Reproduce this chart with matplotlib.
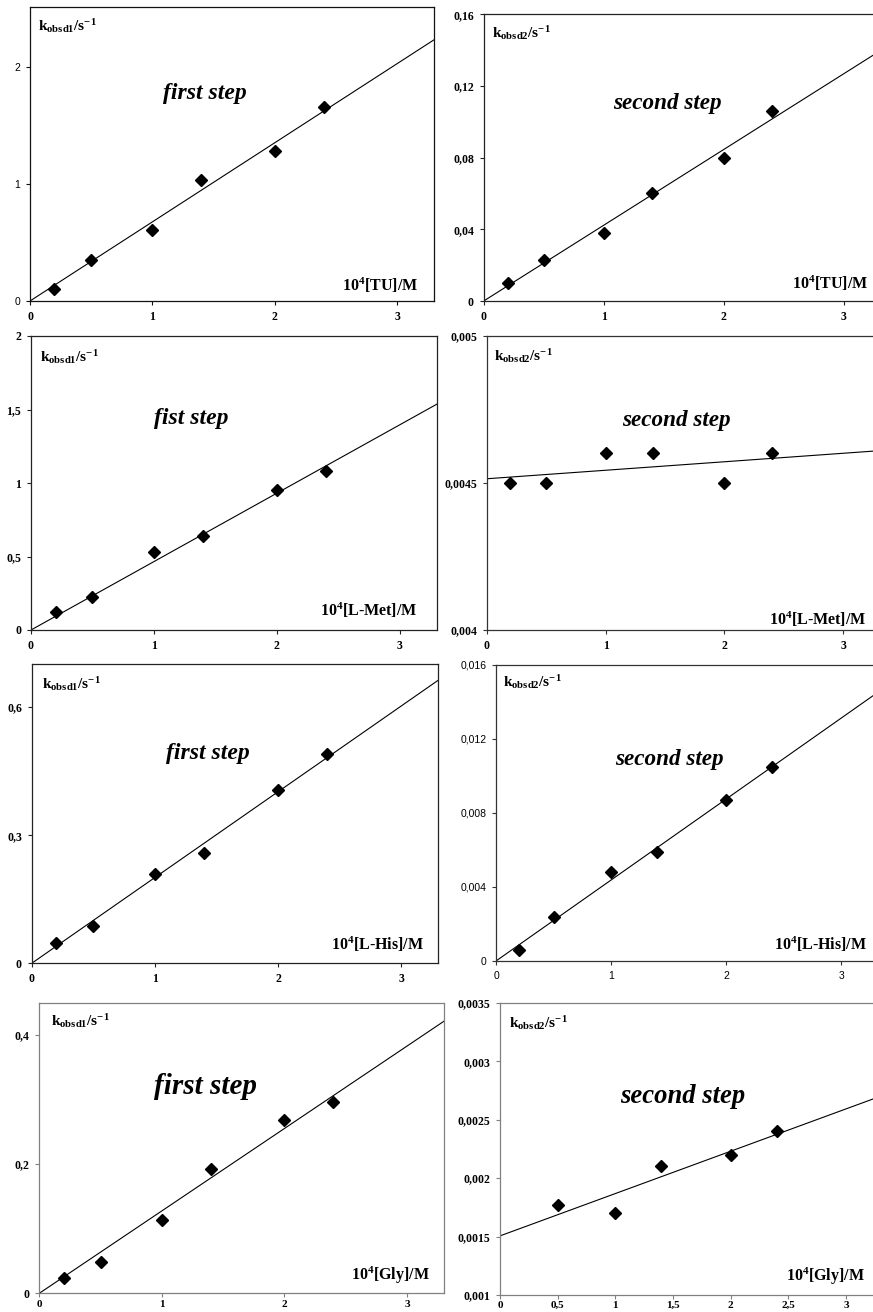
import numpy as np
import matplotlib
matplotlib.use("Agg")
from matplotlib import pyplot as plt

plt.rcParams['mathtext.fontset'] = 'custom'
plt.rcParams['mathtext.rm'] = 'Liberation Serif:bold'
plt.rcParams['mathtext.it'] = 'Liberation Serif:bold:italic'
plt.rcParams['mathtext.bf'] = 'Liberation Serif:bold'

# concentrations, 10^4 [S] / M
conc = [0.2, 0.5, 1, 1.4, 2, 2.4]
conc_gly2 = [0.5, 1, 1.4, 2, 2.4]

k1_tu = [0.10, 0.35, 0.61, 1.03, 1.28, 1.66]
k2_tu = [0.010, 0.023, 0.038, 0.060, 0.080, 0.106]
k1_met = [0.12, 0.225, 0.53, 0.64, 0.95, 1.08]
k2_met = [0.0045, 0.0045, 0.0046, 0.0046, 0.0045, 0.0046]
k1_his = [0.048, 0.088, 0.209, 0.259, 0.405, 0.49]
k2_his = [0.0006, 0.0024, 0.0048, 0.0059, 0.0087, 0.0105]
k1_gly = [0.023, 0.049, 0.114, 0.192, 0.269, 0.296]
k2_gly = [0.00177, 0.0017, 0.0021, 0.0022, 0.0024]

substrates = ['TU', 'TU', 'L-Met', 'L-Met', 'L-His', 'L-His', 'Gly', 'Gly']
step_names = ['first step', 'second step', 'fist step', 'second step',
              'first step', 'second step', 'first step', 'second step']

x_ticks = [0, 1, 2, 3]
x_ticks_half = [0, 0.5, 1, 1.5, 2, 2.5, 3]
x_labels_half = ['0', '0,5', '1', '1,5', '2', '2,5', '3']

y_ticks = [
    ([0, 1, 2], ['0', '1', '2'], (0, 2.51)),
    ([0, 0.04, 0.08, 0.12, 0.16], ['0', '0,04', '0,08', '0,12', '0,16'], (0, 0.16)),
    ([0, 0.5, 1, 1.5, 2], ['0', '0,5', '1', '1,5', '2'], (0, 2)),
    ([0.004, 0.0045, 0.005], ['0,004', '0,0045', '0,005'], (0.004, 0.005)),
    ([0, 0.3, 0.6], ['0', '0,3', '0,6'], (0, 0.7)),
    ([0, 0.004, 0.008, 0.012, 0.016], ['0', '0,004', '0,008', '0,012', '0,016'], (0, 0.016)),
    ([0, 0.2, 0.4], ['0', '0,2', '0,4'], (0, 0.45)),
    ([0.001, 0.0015, 0.002, 0.0025, 0.003, 0.0035],
     ['0,001', '0,0015', '0,002', '0,0025', '0,003', '0,0035'], (0.001, 0.0035)),
]

W, H = 873.0, 1312.0
# left, right, top, bottom in pixels
boxes = [
    (30, 434, 7, 301),
    (483.7, 879.7, 14.3, 301),
    (31, 436.7, 336, 630),
    (486.7, 879, 335.7, 630),
    (31.7, 438, 664.3, 963.3),
    (496, 876, 665, 961),
    (39.3, 443.8, 1002.7, 1293.3),
    (500, 880.5, 1002.7, 1295),
]
# label placements (axes fraction): k label, step text, x label
k_pos = [(0.02, 0.935), (0.021, 0.935), (0.022, 0.93), (0.019, 0.932),
         (0.025, 0.933), (0.018, 0.944), (0.028, 0.937), (0.023, 0.932)]
step_pos = [(0.433, 0.707), (0.465, 0.69), (0.396, 0.72), (0.483, 0.711),
            (0.434, 0.702), (0.456, 0.68), (0.41, 0.711), (0.48, 0.678)]
step_size = [17, 16.7, 17, 16.7, 17, 16.7, 21, 19.2]
xl_pos = [(0.96, 0.054), (0.97, 0.063), (0.953, 0.066), (0.967, 0.035),
          (0.966, 0.065), (0.976, 0.057), (0.966, 0.063), (0.959, 0.063)]
spine_col = ['#111111', '#222222', '#222222', '#333333',
             '#222222', '#333333', '#808080', '#808080']

series = [(conc, k1_tu), (conc, k2_tu), (conc, k1_met), (conc, k2_met),
          (conc, k1_his), (conc, k2_his), (conc, k1_gly), (conc_gly2, k2_gly)]
through_origin = [True, True, True, False, True, True, True, False]

fig = plt.figure(figsize=(W / 100, H / 100), dpi=100)

serif_bold = dict(family='Liberation Serif', weight='bold', size=8.5)
sans_reg = dict(family='Liberation Sans', weight='normal', size=7.5)

for i in range(8):
    l, r, t, b = boxes[i]
    ax = fig.add_axes([l / W, 1 - b / H, (r - l) / W, (b - t) / H])
    x = np.array(series[i][0], dtype=float)
    y = np.array(series[i][1], dtype=float)

    # trend lines as in the original (least squares)
    xx = np.array([0, 3.4])
    if through_origin[i]:
        slope = np.sum(x * y) / np.sum(x * x)
        ax.plot(xx, slope * xx, color='black', lw=0.8)
    else:
        p = np.polyfit(x, y, 1)
        ax.plot(xx, np.polyval(p, xx), color='black', lw=0.8)
    ax.plot(x, y, 'D', color='black', ms=6.5, clip_on=False)

    ticks, labels, lim = y_ticks[i]
    ax.set_ylim(lim)
    ax.set_xlim(0, 3.3)
    ax.set_yticks(ticks)
    ax.set_yticklabels(labels)
    if i == 7:
        ax.set_xticks(x_ticks_half)
        ax.set_xticklabels(x_labels_half)
    else:
        ax.set_xticks(x_ticks)
        ax.set_xticklabels([str(v) for v in x_ticks])

    yfont = sans_reg if i in (0, 5) else serif_bold
    xfont = sans_reg if i == 5 else serif_bold
    for lab in ax.get_yticklabels():
        lab.set(**yfont)
    for lab in ax.get_xticklabels():
        lab.set(**xfont)
    ax.tick_params(axis='both', direction='out', length=3, width=0.8,
                   color=spine_col[i], pad=4)
    if i >= 6:
        # bottom row sits right at the lower edge of the image
        ax.tick_params(axis='x', pad=1.5, labelsize=8)

    for s in ax.spines.values():
        s.set_color(spine_col[i])
        s.set_linewidth(0.9)

    n = '1' if i % 2 == 0 else '2'
    k_txt = r'k$_{\mathrm{obsd' + n + r'}}$/s$^{\mathrm{-1}}$'
    ax.text(k_pos[i][0], k_pos[i][1], k_txt, transform=ax.transAxes,
            fontsize=11, family='Liberation Serif', weight='bold',
            ha='left', va='center')
    ax.text(step_pos[i][0], step_pos[i][1], step_names[i], transform=ax.transAxes,
            fontsize=step_size[i], family='Liberation Serif', weight='bold',
            style='italic', ha='center', va='center')
    ax.text(xl_pos[i][0], xl_pos[i][1], r'10$^{\mathrm{4}}$[' + substrates[i] + ']/M',
            transform=ax.transAxes, fontsize=11.5, family='Liberation Serif',
            weight='bold', ha='right', va='center')

fig.savefig('out.png', dpi=100)
